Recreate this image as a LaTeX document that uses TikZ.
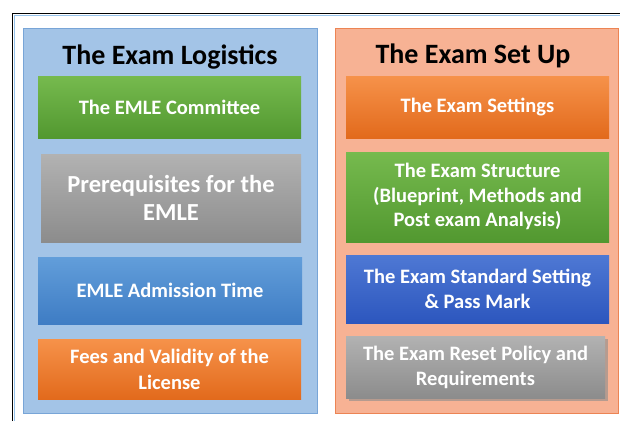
\documentclass[tikz,border=0pt]{standalone}
\usepackage{fontspec}
\setmainfont{Carlito}
\usetikzlibrary{shadows}
\definecolor{lpfill}{RGB}{163,196,231}
\definecolor{lpdraw}{RGB}{120,165,215}
\definecolor{rpfill}{RGB}{247,178,148}
\definecolor{rpdraw}{RGB}{236,132,84}
\definecolor{gtop}{RGB}{118,186,78}
\definecolor{gbot}{RGB}{82,152,48}
\definecolor{otop}{RGB}{246,146,74}
\definecolor{obot}{RGB}{226,106,28}
\definecolor{btop}{RGB}{98,158,218}
\definecolor{bbot}{RGB}{62,124,196}
\definecolor{dbtop}{RGB}{78,120,212}
\definecolor{dbbot}{RGB}{44,86,190}
\definecolor{grtop}{RGB}{178,178,178}
\definecolor{grbot}{RGB}{140,140,140}
\definecolor{framein}{RGB}{150,195,235}
\begin{document}
\begin{tikzpicture}[x=1pt,y=-1pt,
  panel/.style={line width=1pt},
  itemtext/.style={text=white,font=\bfseries\fontsize{20.5}{24.5}\selectfont,align=center},
  titletext/.style={text=black,font=\bfseries\fontsize{28}{32}\selectfont}]
\useasboundingbox (0,0) rectangle (620,421);
\fill[white] (0,0) rectangle (620,421);
% outer frame
\draw[framein,line width=1.2pt] (14.8,421) -- (14.8,15.8) -- (620,15.8);
\draw[black,line width=1.6pt] (12.5,421) -- (12.5,13.5) -- (620,13.5);
% panels
\draw[panel,fill=lpfill,draw=lpdraw] (23,28.5) rectangle (317,413);
\draw[panel,fill=rpfill,draw=rpdraw] (335,28.5) rectangle (618.5,413);
\node[titletext] (t1) at (170,57) {The Exam Logistics};
\node[titletext] (t2) at (473,56) {The Exam Set Up};
% left items
\shade[top color=gtop,bottom color=gbot] (38,76) rectangle (301,138);
\node[itemtext] (l1) at (169.5,107) {The EMLE Committee};
\shade[top color=grtop,bottom color=grbot] (41,154) rectangle (301,242);
\node[itemtext,font=\bfseries\fontsize{24.5}{28}\selectfont] (l2) at (171,198) {Prerequisites for the\\EMLE};
\shade[top color=btop,bottom color=bbot] (38,257) rectangle (302,324);
\node[itemtext] (l3) at (170,290.5) {EMLE Admission Time};
\shade[top color=otop,bottom color=obot] (38,339) rectangle (301,399);
\node[itemtext,font=\bfseries\fontsize{20.5}{26}\selectfont] (l4) at (169.5,369) {Fees and Validity of the\\License};
% right items
\shade[top color=otop,bottom color=obot] (346,76) rectangle (609,138);
\node[itemtext] (r1) at (477.5,107) {The Exam Settings};
\shade[top color=gtop,bottom color=gbot] (346,152) rectangle (609,242);
\node[itemtext] (r2) at (477.5,196.5) {The Exam Structure\\(Blueprint, Methods and\\Post exam Analysis)};
\shade[top color=dbtop,bottom color=dbbot] (346,255) rectangle (609,323);
\node[itemtext] (r3) at (477.5,289) {The Exam Standard Setting\\\& Pass Mark};
\fill[black!45,opacity=0.6] (348.5,338.5) rectangle (607.5,400.5);
\shade[top color=grtop,bottom color=grbot] (346,336) rectangle (605,398);
\node[itemtext] (r4) at (475.5,367.5) {The Exam Reset Policy and\\Requirements};
\end{tikzpicture}
\end{document}
